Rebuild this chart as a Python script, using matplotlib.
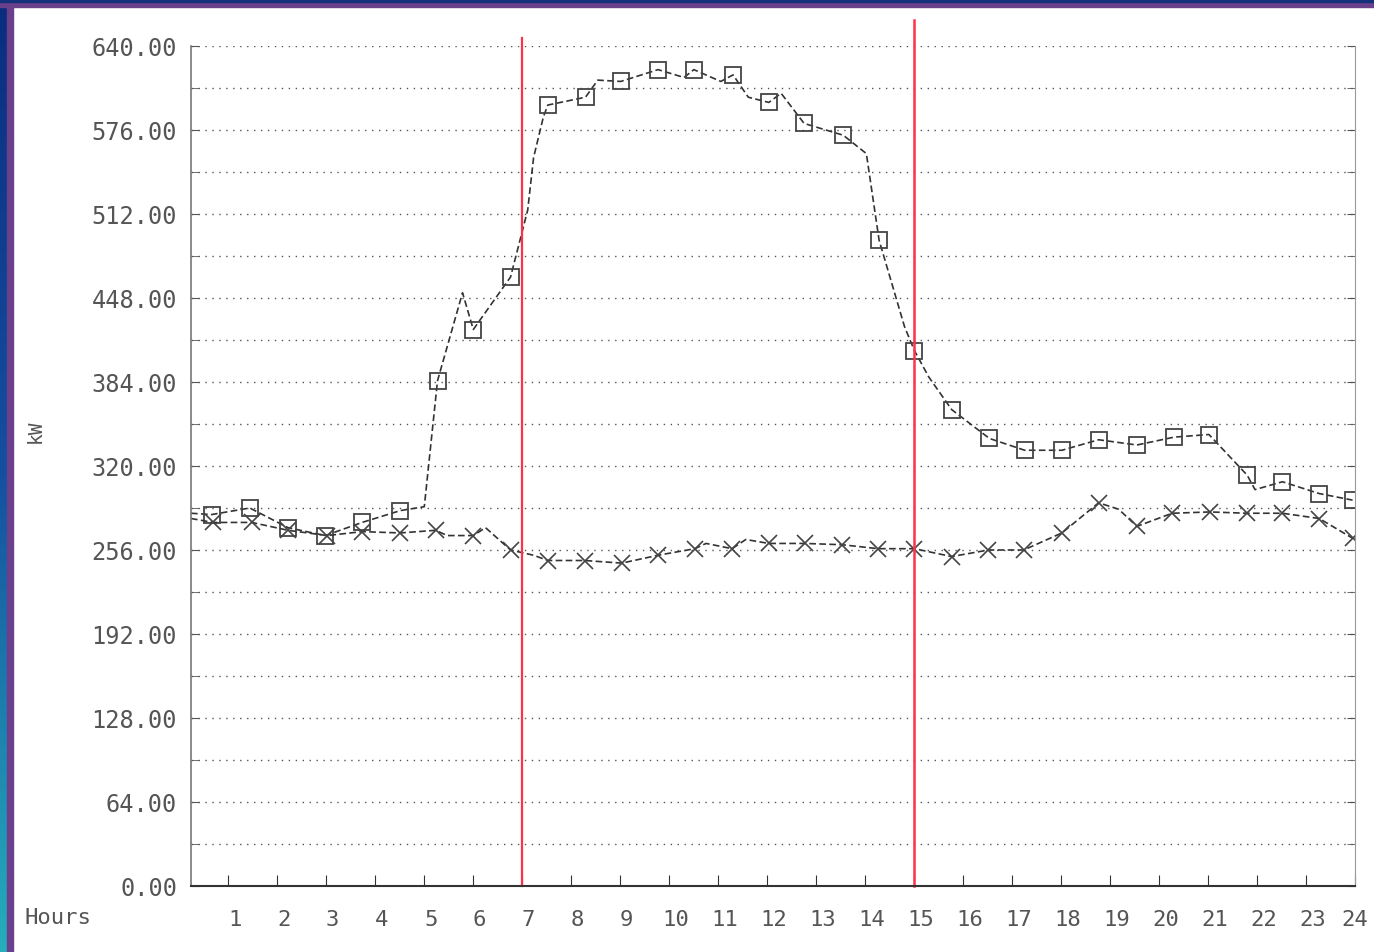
import numpy as np
import matplotlib
matplotlib.use("Agg")
import matplotlib.pyplot as plt
from matplotlib.patches import Rectangle
from matplotlib.colors import LinearSegmentedColormap

# square-marker series (line vertices, hours / kW)
sq_hours = [0.25, 0.67, 1.45, 2.23, 2.99, 3.74, 4.52, 5.01, 5.28, 5.79, 6.01, 6.77,
            7.12, 7.24, 7.44, 7.53, 8.30, 8.55, 9.02, 9.78, 10.31, 10.51, 11.06, 11.31,
            11.62, 12.04, 12.29, 12.76, 13.56, 14.03, 14.29, 14.81, 15.01, 15.30, 15.77,
            16.54, 17.26, 18.02, 18.77, 19.55, 20.31, 21.02, 21.80, 21.96, 22.52, 23.27, 23.95]
sq_kw = [284, 283, 288, 273, 267, 277, 286, 289, 385, 452, 424, 464,
         515, 555, 586, 595, 601, 614, 613, 622, 616, 622, 613, 618,
         601, 597, 604, 581, 572, 558, 492, 426, 408, 388, 363,
         341, 332, 332, 340, 336, 342, 344, 313, 302, 308, 299, 294]
sq_marks = [1, 2, 3, 4, 5, 6, 8, 10, 11, 15, 16, 18, 19, 21, 23, 25, 27, 28, 30,
            32, 34, 35, 36, 37, 38, 39, 40, 41, 42, 44, 45, 46]

# x-marker series
x_hours = [0.25, 0.70, 1.49, 2.23, 3.03, 3.74, 4.52, 5.24, 5.48, 6.01, 6.26, 6.77,
           7.24, 7.53, 8.28, 9.04, 9.78, 10.53, 10.76, 11.29, 11.57, 12.04, 12.78,
           13.54, 14.27, 15.01, 15.77, 16.52, 17.24, 18.02, 18.77, 19.18, 19.55,
           20.27, 21.04, 21.80, 22.52, 23.27, 23.95]
x_kw = [280, 277, 277, 271, 267, 270, 269, 271, 267, 267, 273, 256,
        252, 248, 248, 246, 252, 257, 261, 257, 264, 261, 261,
        260, 257, 257, 251, 256, 256, 269, 292, 287, 274,
        284, 285, 284, 284, 280, 265]
x_marks = [1, 2, 3, 4, 5, 6, 7, 9, 11, 13, 14, 15, 16, 17, 19, 21, 22, 23, 24,
           25, 26, 27, 28, 29, 30, 32, 33, 34, 35, 36, 37, 38]

hour_ticks = list(range(1, 25))
kw_ticks = list(range(0, 641, 64))
shift_hours = [7, 15]

W, H = 1374, 952
fig = plt.figure(figsize=(W / 100, H / 100), dpi=100)
fig.patch.set_facecolor("white")

# slide frame: blue gradient strip on the left, purple bands
grad = fig.add_axes([0, 0, 7 / W, 1])
g = np.linspace(0, 1, 256).reshape(-1, 1)
cm = LinearSegmentedColormap.from_list("bg", ["#0b2c7e", "#1550a0", "#25aebc"])
grad.imshow(g, aspect="auto", cmap=cm, origin="upper")
grad.axis("off")
fig.patches.append(Rectangle((7 / W, 0), 6 / W, 1, transform=fig.transFigure,
                             color="#6a3f8c", zorder=5))
fig.patches.append(Rectangle((0, 1 - 7 / H), 1, 5 / H, transform=fig.transFigure,
                             color="#6a3f8c", zorder=5))
fig.patches.append(Rectangle((0, 1 - 2 / H), 1, 2 / H, transform=fig.transFigure,
                             color="#13307a", zorder=5))

ax = fig.add_axes([191 / W, 66 / H, 1164 / W, 840 / H])

ax.plot(sq_hours, sq_kw, color="#333333", lw=1.2, ls=(0, (4, 2)),
        marker="s", markevery=sq_marks, ms=12, mfc="none", mec="#444444", mew=1.3)
ax.plot(x_hours, x_kw, color="#333333", lw=1.2, ls=(0, (4, 2)),
        marker="x", markevery=x_marks, ms=12, mec="#444444", mew=1.2)

ax.axvline(shift_hours[0], ymin=0, ymax=1.0095, color="#ff3048", lw=1.6, clip_on=False)
ax.axvline(shift_hours[1], ymin=0, ymax=1.031, color="#ff3048", lw=1.8, clip_on=False)

mono = "DejaVu Sans Mono"
txt = "#555555"
ax.set_yticks(kw_ticks)
ax.set_yticks(range(32, 640, 64), minor=True)
ax.set_yticklabels([f"{v:.2f}" for v in kw_ticks], fontsize=17, family=mono, color=txt)

# tick marks on the hours, labels sit a little to the right of them
ax.set_xticks(hour_ticks)
ax.set_xticklabels([""] * 23 + ["24"], fontsize=16, family=mono, color=txt)
ax.set_xticks([h + 0.14 for h in hour_ticks[:-1]], minor=True)
ax.set_xticklabels([str(h) for h in hour_ticks[:-1]], minor=True, fontsize=16,
                   family=mono, color=txt)

ax.set_xlim(0.25, 24)
ax.set_ylim(0, 640)

ax.grid(axis="y", which="both", color="#555555", ls=(0, (1, 4)), lw=1.0)
ax.tick_params(axis="y", which="both", direction="in", right=True, length=6,
               color="#555555", pad=10)
ax.tick_params(axis="x", which="major", direction="in", length=8, color="#333333", pad=17)
ax.tick_params(axis="x", which="minor", length=0, pad=17)

ax.spines["top"].set_visible(False)
ax.spines["left"].set_color("#777777")
ax.spines["right"].set_color("#999999")
ax.spines["bottom"].set_color("#333333")
ax.spines["bottom"].set_linewidth(1.5)
ax.spines["left"].set_linewidth(1.2)

fig.text(58 / W, 1 - 918 / H, "Hours", fontsize=16, family=mono, color=txt,
         ha="center", va="center")
fig.text(35 / W, 1 - 431 / H, "kW", fontsize=14, family=mono, color=txt,
         ha="center", va="center", rotation=90)

fig.savefig("out.png", dpi=100)
